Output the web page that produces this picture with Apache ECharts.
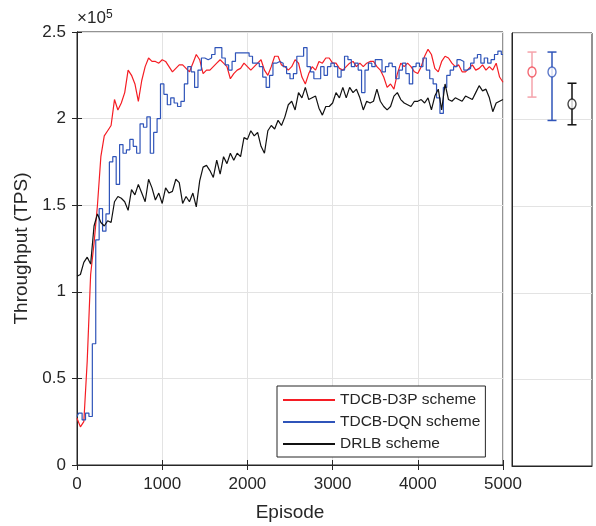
<!DOCTYPE html>
<html>
<head>
<meta charset="utf-8">
<script src="https://cdn.jsdelivr.net/npm/echarts@6/dist/echarts.min.js"></script>
<style>
  html, body { margin: 0; padding: 0; background: #fff; }
  #main { width: 596px; height: 526px; }
</style>
</head>
<body>
<div id="main"></div>
<script>
// 横轴：每 40 个 episode 取一个点
var STEP = 40;

// 吞吐量 (×10^5 TPS)
var d3pData = [
  0.27, 0.22, 0.25, 0.60, 1.10, 1.28, 1.50, 1.78, 1.90, 1.93,
  1.96, 2.11, 2.05, 2.09, 2.15, 2.28, 2.25, 2.20, 2.10, 2.22,
  2.30, 2.35, 2.33, 2.33, 2.32, 2.34, 2.33, 2.30, 2.27, 2.29,
  2.31, 2.31, 2.29, 2.27, 2.32, 2.37, 2.34, 2.26, 2.28, 2.28,
  2.30, 2.32, 2.34, 2.32, 2.30, 2.23, 2.26, 2.28, 2.29, 2.32,
  2.30, 2.28, 2.30, 2.32, 2.34, 2.28, 2.25, 2.30, 2.36, 2.36,
  2.31, 2.30, 2.28, 2.30, 2.34, 2.32, 2.24, 2.20, 2.26, 2.30,
  2.28, 2.33, 2.32, 2.35, 2.35, 2.32, 2.32, 2.29, 2.28, 2.30,
  2.32, 2.33, 2.30, 2.32, 2.30, 2.32, 2.33, 2.33, 2.30, 2.28,
  2.24, 2.18, 2.20, 2.17, 2.26, 2.32, 2.30, 2.32, 2.30, 2.27,
  2.26, 2.30, 2.36, 2.40, 2.37, 2.29, 2.27, 2.33, 2.36, 2.35,
  2.32, 2.30, 2.31, 2.27, 2.27, 2.29, 2.31, 2.28, 2.29, 2.31,
  2.28, 2.30, 2.28, 2.32, 2.24, 2.21
];
var dqnData = [
  0.28, 0.30, 0.26, 0.30, 0.28, 0.70, 1.30, 1.48, 1.35, 1.45,
  1.75, 1.78, 1.62, 1.85, 1.80, 1.82, 1.88, 1.84, 1.80, 1.97,
  1.95, 2.01, 1.80, 1.92, 2.00, 2.20, 2.14, 2.08, 2.12, 2.09,
  2.07, 2.10, 2.20, 2.30, 2.27, 2.18, 2.28, 2.35, 2.34, 2.35,
  2.37, 2.41, 2.41, 2.35, 2.31, 2.28, 2.33, 2.38, 2.38, 2.38,
  2.38, 2.36, 2.32, 2.32, 2.30, 2.24, 2.18, 2.25, 2.32, 2.33,
  2.32, 2.30, 2.26, 2.23, 2.26, 2.36, 2.36, 2.41, 2.30, 2.27,
  2.23, 2.23, 2.30, 2.25, 2.30, 2.32, 2.30, 2.24, 2.28, 2.36,
  2.34, 2.30, 2.32, 2.28, 2.15, 2.28, 2.32, 2.30, 2.34, 2.34,
  2.27, 2.30, 2.32, 2.30, 2.23, 2.28, 2.32, 2.26, 2.20, 2.30,
  2.32, 2.30, 2.35, 2.28, 2.23, 2.20, 2.12, 2.03, 2.18, 2.25,
  2.28, 2.30, 2.34, 2.33, 2.28, 2.29, 2.32, 2.35, 2.37, 2.32,
  2.35, 2.32, 2.34, 2.37, 2.39, 2.37
];
var drlbData = [
  1.09, 1.10, 1.17, 1.20, 1.16, 1.38, 1.45, 1.40, 1.38, 1.41,
  1.40, 1.52, 1.55, 1.54, 1.52, 1.47, 1.59, 1.56, 1.62, 1.57,
  1.52, 1.65, 1.60, 1.53, 1.57, 1.51, 1.60, 1.57, 1.58, 1.65,
  1.63, 1.51, 1.55, 1.52, 1.57, 1.49, 1.64, 1.72, 1.73, 1.70,
  1.66, 1.76, 1.68, 1.78, 1.74, 1.80, 1.76, 1.80, 1.78, 1.89,
  1.88, 1.93, 1.90, 1.92, 1.84, 1.80, 1.93, 1.96, 1.94, 1.99,
  1.96, 2.01, 2.08, 2.10, 2.05, 2.15, 2.12, 2.18, 2.11, 2.12,
  2.13, 2.06, 2.02, 2.07, 2.07, 2.09, 2.15, 2.12, 2.18, 2.12,
  2.18, 2.15, 2.17, 2.12, 2.05, 2.10, 2.09, 2.10, 2.17, 2.10,
  2.07, 2.05, 2.07, 2.13, 2.15, 2.11, 2.09, 2.08, 2.07, 2.10,
  2.10, 2.11, 2.09, 2.12, 2.05, 2.13, 2.17, 2.05, 2.20, 2.11,
  2.10, 2.12, 2.11, 2.10, 2.13, 2.12, 2.11, 2.15, 2.19, 2.16,
  2.17, 2.12, 2.04, 2.09, 2.10, 2.11
];

// 右侧误差棒：均值、下限、上限
var errNames = ['TDCB-D3P scheme', 'TDCB-DQN scheme', 'DRLB scheme'];
var errMean = [2.275, 2.275, 2.09];
var errLow = [2.13, 1.995, 1.97];
var errHigh = [2.39, 2.39, 2.21];

var xTicks = [0, 1000, 2000, 3000, 4000, 5000];

var RED = '#f51d24', BLUE = '#2f54b9', BLACK = '#111111';
var errLineColors = ['#f5a3ab', BLUE, BLACK];
var errMarkColors = ['#f0404c', BLUE, BLACK];
var AXIS = '#262626', GRIDC = '#e3e3e3';
var FONT = 'Liberation Sans';

function pairs(arr) {
  var out = [];
  for (var i = 0; i < arr.length; i++) out.push([i * STEP, arr[i]]);
  return out;
}

var chart = echarts.init(document.getElementById('main'), null, { renderer: 'canvas' });

var tickStyle = { show: true, inside: true, length: 5, lineStyle: { color: AXIS } };

var option = {
  animation: false,
  backgroundColor: '#fff',
  textStyle: { fontFamily: FONT },
  grid: [
    { left: 77, top: 32, width: 426, height: 433, show: true, borderColor: AXIS, borderWidth: 1,
      backgroundColor: '#fff', outerBoundsMode: 'none', containLabel: false },
    { left: 512, top: 33, width: 80, height: 433, show: true, borderColor: AXIS, borderWidth: 1,
      backgroundColor: '#fff', outerBoundsMode: 'none', containLabel: false }
  ],
  xAxis: [
    {
      gridIndex: 0, type: 'value', min: 0, max: 5000, interval: 1000,
      name: 'Episode', nameLocation: 'middle', nameGap: 38,
      nameTextStyle: { fontSize: 19, color: AXIS, fontFamily: FONT },
      axisLine: { show: true, lineStyle: { color: AXIS } },
      axisTick: tickStyle,
      axisLabel: { fontSize: 17, color: AXIS, margin: 11, fontFamily: FONT,
        formatter: function (v) { return xTicks.indexOf(v) >= 0 ? String(v) : ''; } },
      splitLine: { show: true, lineStyle: { color: GRIDC, width: 1 } }
    },
    {
      gridIndex: 0, type: 'value', min: 0, max: 5000, interval: 1000, position: 'top',
      axisLine: { show: true, lineStyle: { color: AXIS } },
      axisTick: tickStyle, axisLabel: { show: false }, splitLine: { show: false }
    },
    {
      gridIndex: 1, type: 'value', min: 0, max: 4,
      axisLine: { show: true, lineStyle: { color: AXIS } },
      axisTick: { show: false }, axisLabel: { show: false }, splitLine: { show: false }
    }
  ],
  yAxis: [
    {
      gridIndex: 0, type: 'value', min: 0, max: 2.5, interval: 0.5,
      name: 'Throughput (TPS)', nameLocation: 'middle', nameGap: 46,
      nameTextStyle: { fontSize: 19, color: AXIS, fontFamily: FONT },
      axisLine: { show: true, lineStyle: { color: AXIS } },
      axisTick: tickStyle,
      axisLabel: { fontSize: 17, color: AXIS, margin: 11, fontFamily: FONT },
      splitLine: { show: true, lineStyle: { color: GRIDC, width: 1 } }
    },
    {
      gridIndex: 0, type: 'value', min: 0, max: 2.5, interval: 0.5, position: 'right',
      axisLine: { show: true, lineStyle: { color: AXIS } },
      axisTick: tickStyle, axisLabel: { show: false }, splitLine: { show: false }
    },
    {
      gridIndex: 1, type: 'value', min: 0, max: 2.5, interval: 0.5,
      axisLine: { show: true, lineStyle: { color: AXIS } },
      axisTick: { show: false }, axisLabel: { show: false },
      splitLine: { show: true, lineStyle: { color: GRIDC, width: 1 } }
    }
  ],
  legend: {
    orient: 'vertical', left: 277, top: 386,
    padding: [6, 5, 5, 6], itemGap: 6,
    itemWidth: 52, itemHeight: 2, icon: 'rect',
    backgroundColor: '#fff', borderColor: AXIS, borderWidth: 1,
    textStyle: { fontSize: 15.5, color: AXIS, fontFamily: FONT, lineHeight: 15.5 },
    data: errNames
  },
  graphic: [
    {
      type: 'text', left: 77, top: 10,
      style: { text: '×10', fontSize: 17, fill: AXIS, fontFamily: FONT }
    },
    {
      type: 'text', left: 106, top: 9,
      style: { text: '5', fontSize: 12, fill: AXIS, fontFamily: FONT }
    }
  ],
  series: [
    {
      name: errNames[1], type: 'line', xAxisIndex: 0, yAxisIndex: 0,
      data: pairs(dqnData), step: 'middle', symbol: 'none', z: 3,
      lineStyle: { color: BLUE, width: 1.2 }, itemStyle: { color: BLUE }
    },
    {
      name: errNames[0], type: 'line', xAxisIndex: 0, yAxisIndex: 0,
      data: pairs(d3pData), symbol: 'none', z: 2,
      lineStyle: { color: RED, width: 1.2 }, itemStyle: { color: RED }
    },
    {
      name: errNames[2], type: 'line', xAxisIndex: 0, yAxisIndex: 0,
      data: pairs(drlbData), symbol: 'none', z: 4,
      lineStyle: { color: BLACK, width: 1.2 }, itemStyle: { color: BLACK }
    },
    {
      type: 'custom', xAxisIndex: 2, yAxisIndex: 2,
      data: errMean.map(function (m, i) { return [i + 1, errLow[i], errHigh[i]]; }),
      renderItem: function (params, api) {
        var x = api.value(0);
        var top = api.coord([x, api.value(2)]);
        var bot = api.coord([x, api.value(1)]);
        var c = errLineColors[params.dataIndex];
        var w = 4.5;
        var st = { stroke: c, lineWidth: 1.5 };
        return {
          type: 'group',
          children: [
            { type: 'line', shape: { x1: top[0], y1: top[1], x2: bot[0], y2: bot[1] }, style: st },
            { type: 'line', shape: { x1: top[0] - w, y1: top[1], x2: top[0] + w, y2: top[1] }, style: st },
            { type: 'line', shape: { x1: bot[0] - w, y1: bot[1], x2: bot[0] + w, y2: bot[1] }, style: st }
          ]
        };
      },
      z: 3
    },
    {
      type: 'scatter', xAxisIndex: 2, yAxisIndex: 2,
      data: errMean.map(function (m, i) {
        return { value: [i + 1, m], itemStyle: { borderColor: errMarkColors[i] } };
      }),
      symbol: 'circle', symbolSize: [8, 10],
      itemStyle: { color: '#fff', borderWidth: 1.5 },
      z: 5
    }
  ]
};

chart.setOption(option);
</script>
</body>
</html>
